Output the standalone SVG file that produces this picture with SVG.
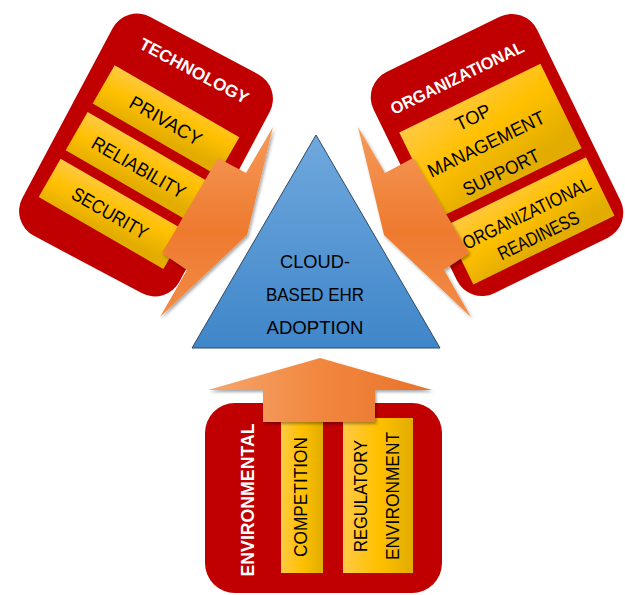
<svg xmlns="http://www.w3.org/2000/svg" width="625" height="595" viewBox="0 0 625 595">
  <defs>
    <linearGradient id="gold" x1="0" y1="0" x2="0.35" y2="1">
      <stop offset="0" stop-color="#ffca45"/>
      <stop offset="0.5" stop-color="#ffc000"/>
      <stop offset="1" stop-color="#e2ad00"/>
    </linearGradient>
    <linearGradient id="goldH" x1="0" y1="0" x2="1" y2="0">
      <stop offset="0" stop-color="#ffca45"/>
      <stop offset="0.5" stop-color="#ffc000"/>
      <stop offset="1" stop-color="#e2ad00"/>
    </linearGradient>
    <linearGradient id="sky" x1="0" y1="0" x2="0" y2="1">
      <stop offset="0" stop-color="#70a8dd"/>
      <stop offset="1" stop-color="#3f86c9"/>
    </linearGradient>
    <linearGradient id="flame" x1="0" y1="0" x2="0" y2="1">
      <stop offset="0" stop-color="#f59a5a"/>
      <stop offset="0.55" stop-color="#ee7a2e"/>
      <stop offset="1" stop-color="#f38c48"/>
    </linearGradient>
    <linearGradient id="flameH" x1="0" y1="0" x2="1" y2="0">
      <stop offset="0" stop-color="#f5a66e"/>
      <stop offset="0.5" stop-color="#f2873f"/>
      <stop offset="1" stop-color="#e8722a"/>
    </linearGradient>
    <filter id="shade" x="-20%" y="-20%" width="140%" height="140%">
      <feDropShadow dx="1.5" dy="2" stdDeviation="1.8" flood-color="#000" flood-opacity="0.35"/>
    </filter>
  </defs>
  <style>
    .panel { fill: #c00000; }
    .strip { fill: url(#gold); }
    .stripV { fill: url(#goldH); }
    .head { font-family: "Liberation Sans", Arial, sans-serif; font-weight: bold; font-size: 17px; fill: #ffffff; text-anchor: middle; }
    .item { font-family: "Liberation Sans", Arial, sans-serif; font-size: 19px; fill: #000000; text-anchor: middle; }
    .core { font-family: "Liberation Sans", Arial, sans-serif; font-size: 19px; fill: #000000; text-anchor: middle; }
    .arrow { filter: url(#shade); }
  </style>

  <!-- Technology factors -->
  <g id="technology" transform="translate(146,155) rotate(28)">
    <rect class="panel" x="-89" y="-124" width="178" height="248" rx="28"/>
    <text class="head" x="3" y="-91" textLength="121" lengthAdjust="spacingAndGlyphs">TECHNOLOGY</text>
    <g transform="rotate(2)">
      <rect class="strip" x="-72" y="-62" width="144" height="44"/>
      <text class="item" x="0" y="-33" textLength="80" lengthAdjust="spacingAndGlyphs">PRIVACY</text>
      <rect class="strip" x="-72" y="-8" width="144" height="44"/>
      <text class="item" x="0" y="21" textLength="105" lengthAdjust="spacingAndGlyphs">RELIABILITY</text>
      <rect class="strip" x="-72" y="46" width="144" height="44"/>
      <text class="item" x="-2" y="75" textLength="85" lengthAdjust="spacingAndGlyphs">SECURITY</text>
    </g>
  </g>

  <!-- Organizational factors -->
  <g id="organizational" transform="translate(497,155) rotate(-26)">
    <rect class="panel" x="-91" y="-123" width="182" height="246" rx="28"/>
    <text class="head" x="-2" y="-81" textLength="146" lengthAdjust="spacingAndGlyphs">ORGANIZATIONAL</text>
    <rect class="strip" x="-78" y="-63" width="157" height="94"/>
    <text class="item" x="-5" y="-38" textLength="37" lengthAdjust="spacingAndGlyphs">TOP</text>
    <text class="item" x="-5" y="-8" textLength="128" lengthAdjust="spacingAndGlyphs">MANAGEMENT</text>
    <text class="item" x="-4" y="24" textLength="83" lengthAdjust="spacingAndGlyphs">SUPPORT</text>
    <rect class="strip" x="-78" y="41" width="157" height="65"/>
    <text class="item" x="1" y="72" textLength="140" lengthAdjust="spacingAndGlyphs">ORGANIZATIONAL</text>
    <text class="item" x="2" y="97" textLength="88" lengthAdjust="spacingAndGlyphs">READINESS</text>
  </g>

  <!-- Central outcome -->
  <g id="adoption">
    <polygon points="316,135 440,348 192,348" fill="url(#sky)" stroke="#2d4a66" stroke-width="1"/>
    <text class="core" x="315" y="268" textLength="70" lengthAdjust="spacingAndGlyphs">CLOUD-</text>
    <text class="core" x="315" y="301" textLength="98" lengthAdjust="spacingAndGlyphs">BASED EHR</text>
    <text class="core" x="315" y="334" textLength="97" lengthAdjust="spacingAndGlyphs">ADOPTION</text>
  </g>

  <!-- Environmental factors -->
  <g id="environmental">
    <rect class="panel" x="205" y="403" width="237" height="190" rx="30"/>
    <rect class="stripV" x="281" y="418" width="42" height="155"/>
    <rect class="stripV" x="343" y="418" width="70" height="155"/>
    <text class="head" transform="translate(253.5,500) rotate(-90)" style="font-size:18px" textLength="153" lengthAdjust="spacingAndGlyphs">ENVIRONMENTAL</text>
    <text class="item" transform="translate(307,497) rotate(-90)" textLength="120" lengthAdjust="spacingAndGlyphs">COMPETITION</text>
    <text class="item" transform="translate(367,496) rotate(-90)" textLength="112" lengthAdjust="spacingAndGlyphs">REGULATORY</text>
    <text class="item" transform="translate(399,496) rotate(-90)" textLength="128" lengthAdjust="spacingAndGlyphs">ENVIRONMENT</text>
  </g>

  <!-- Influence arrows -->
  <g id="connectors">
    <polygon class="arrow" points="273,127 247,235 160,317 187,270 162,253 218,158 246,173" fill="url(#flame)"/>
    <polygon class="arrow" points="358,127 385,173 413,158 469,253 444,270 471,317 384,235" fill="url(#flame)"/>
    <polygon class="arrow" points="320,358 432,390 375,390 375,422 263,422 263,390 208,390" fill="url(#flameH)"/>
  </g>
</svg>
